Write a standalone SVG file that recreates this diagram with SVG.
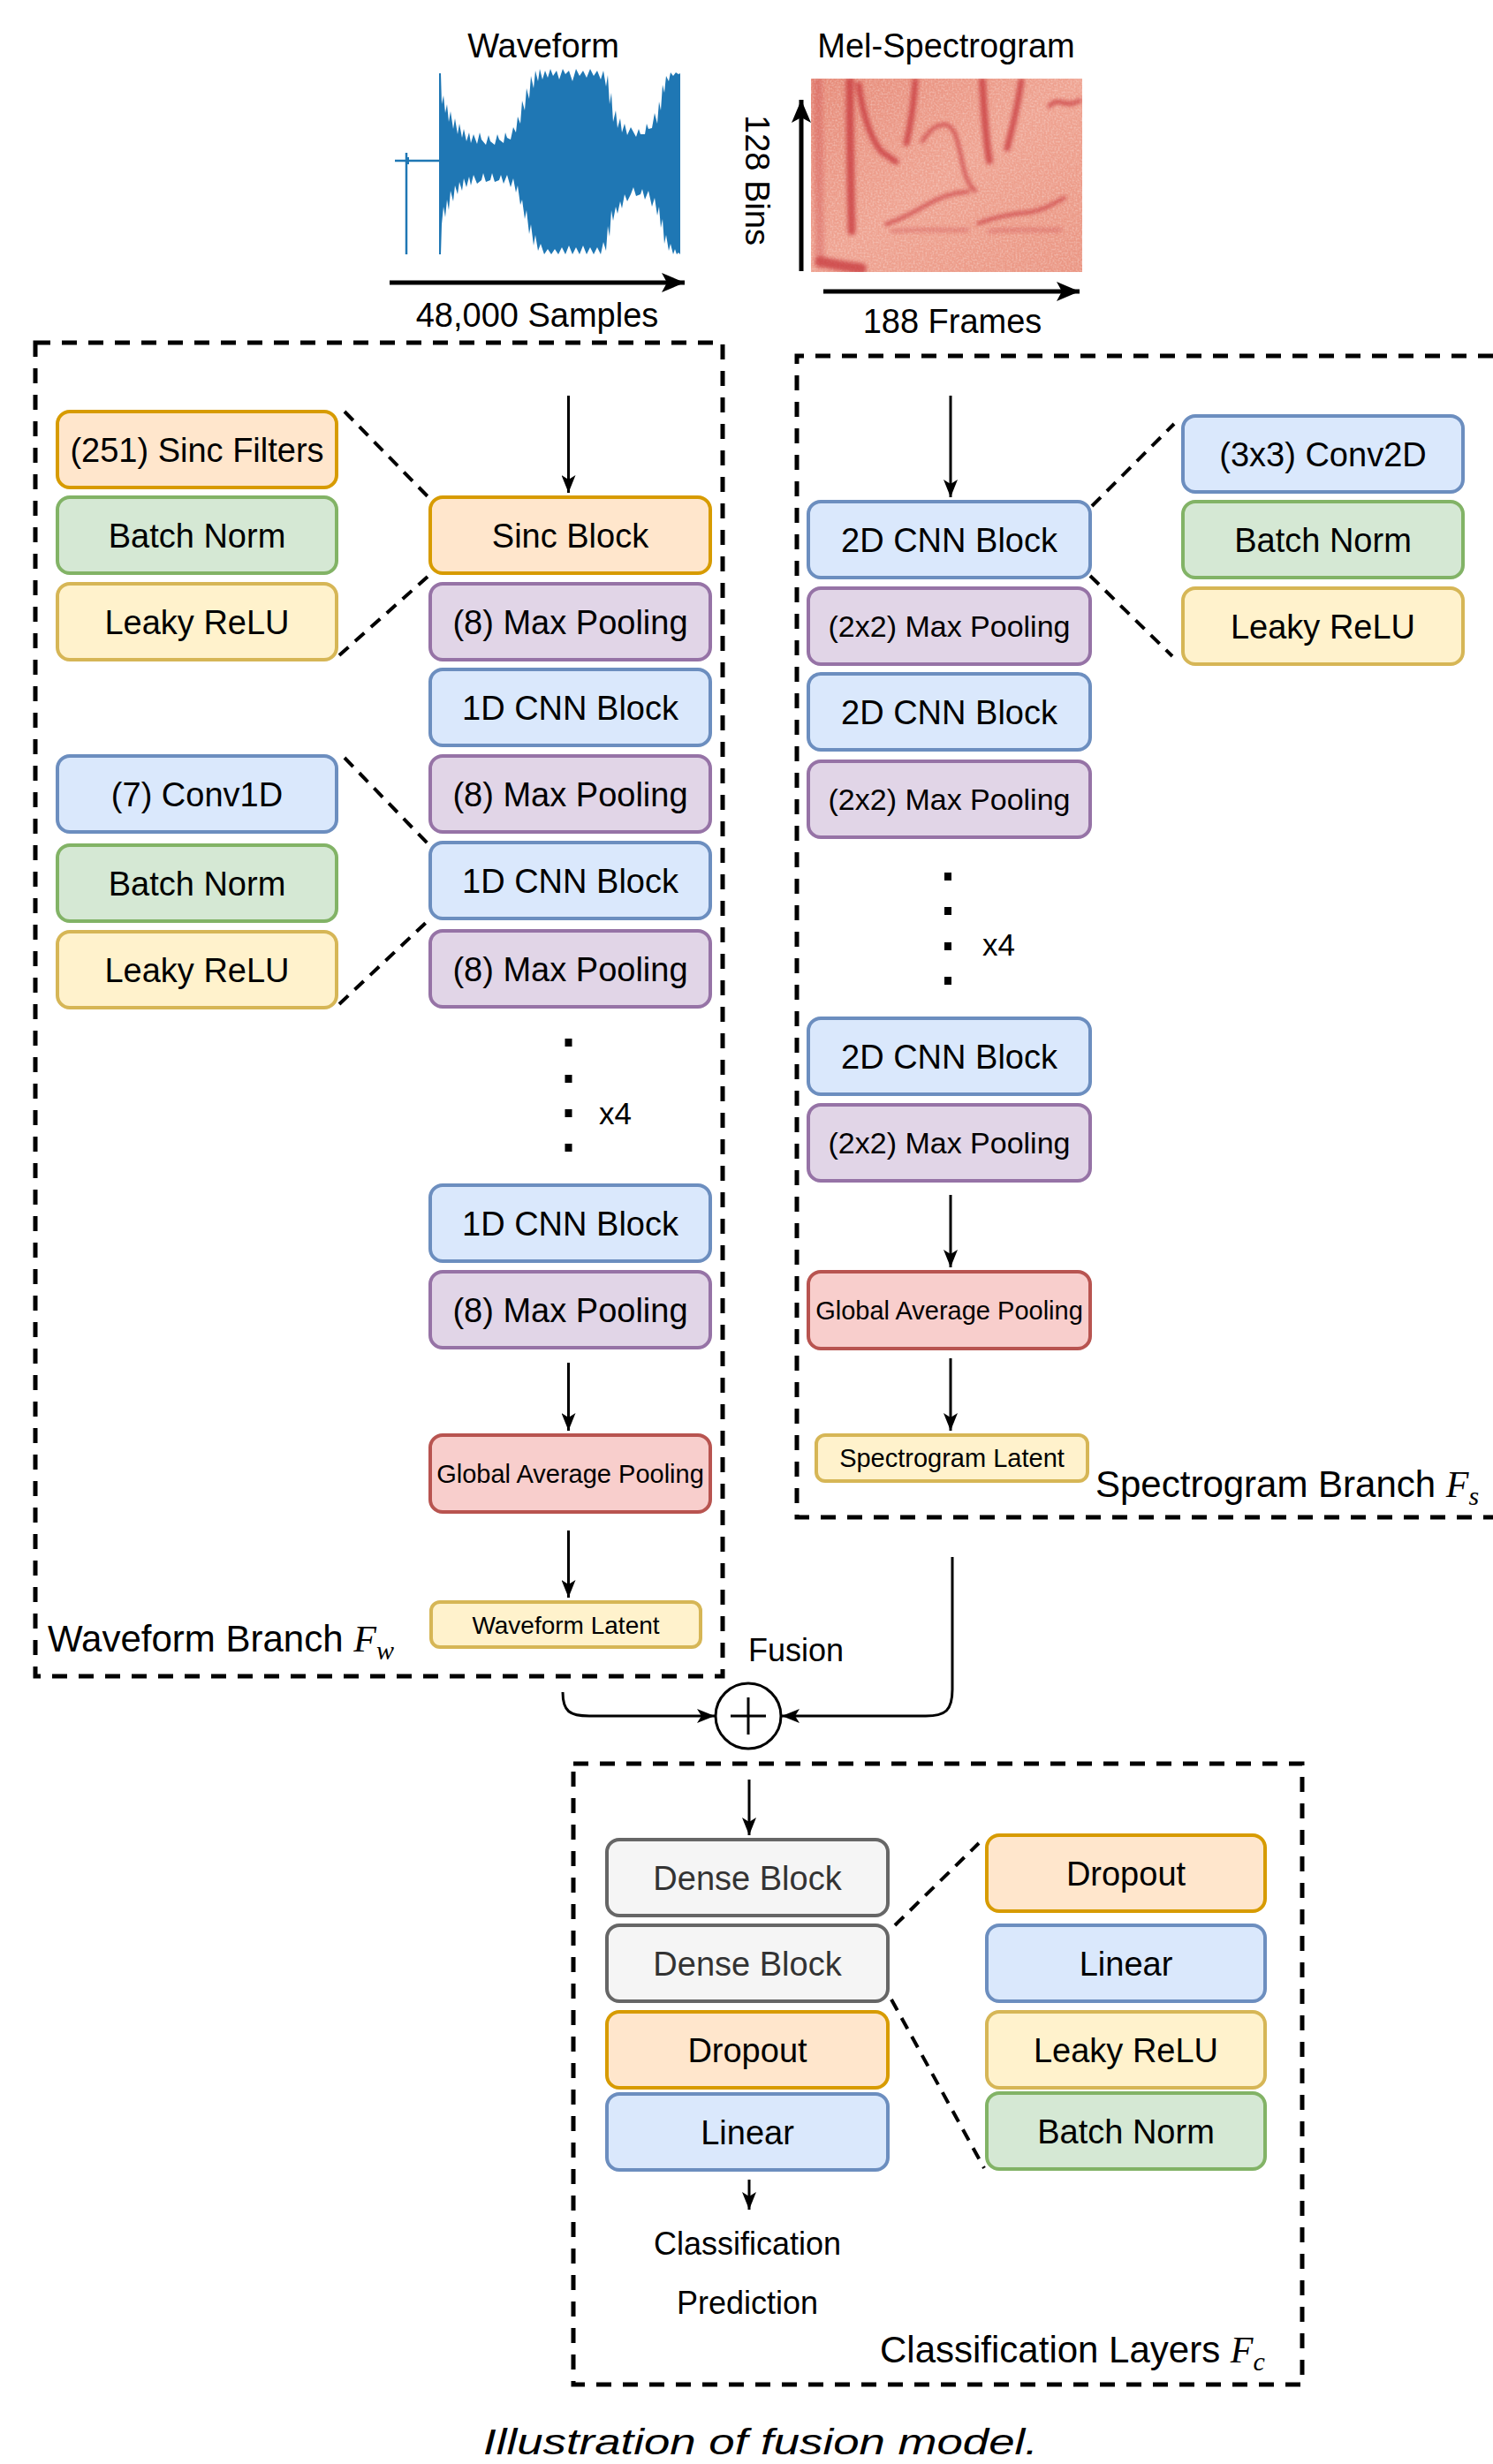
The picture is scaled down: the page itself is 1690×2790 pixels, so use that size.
<svg xmlns="http://www.w3.org/2000/svg" width="1690" height="2790" viewBox="0 0 1690 2790">
<defs>
<style>
.o{fill:#ffe6cc;stroke:#d79b00;stroke-width:4}
.g{fill:#d5e8d4;stroke:#82b366;stroke-width:4}
.y{fill:#fff2cc;stroke:#d6b656;stroke-width:4}
.b{fill:#dae8fc;stroke:#6c8ebf;stroke-width:4}
.p{fill:#e1d5e7;stroke:#9673a6;stroke-width:4}
.r{fill:#f8cecc;stroke:#b85450;stroke-width:4}
.k{fill:#f5f5f5;stroke:#666666;stroke-width:4}
text{font-family:"Liberation Sans",Arial,Helvetica,sans-serif;fill:#000}
.t{font-size:38px;text-anchor:middle}
.t34{font-size:34px;text-anchor:middle}
.t29{font-size:29px;text-anchor:middle}
.t28{font-size:28px;text-anchor:middle}
.gt{fill:#333333}
.lbl{font-size:42px}
.math{font-family:"Liberation Serif","DejaVu Serif",serif;font-style:italic}
.border{fill:none;stroke:#000;stroke-width:5;stroke-dasharray:17 13}
.dl{fill:none;stroke:#000;stroke-width:4;stroke-dasharray:14 10}
.arr{fill:none;stroke:#000;stroke-width:3;marker-end:url(#ah)}
.ax{fill:none;stroke:#000;stroke-width:5;marker-end:url(#bh)}
.dot{fill:#000}
</style>
<marker id="ah" markerUnits="userSpaceOnUse" markerWidth="20" markerHeight="16" viewBox="0 0 20 16" refX="20" refY="8" orient="auto">
<path d="M0,0 L20,8 L0,16 L5,8 z" fill="#000"/>
</marker>
<marker id="bh" markerUnits="userSpaceOnUse" markerWidth="26" markerHeight="22" viewBox="0 0 26 22" refX="26" refY="11" orient="auto">
<path d="M0,0 L26,11 L0,22 L6,11 z" fill="#000"/>
</marker>
<clipPath id="specclip"><rect x="918" y="89" width="307" height="219"/></clipPath>
<filter id="speck" x="0" y="0" width="1" height="1">
<feTurbulence type="fractalNoise" baseFrequency="0.5" numOctaves="2" seed="3" result="n"/>
<feColorMatrix in="n" type="matrix" values="0 0 0 0 1  0 0 0 0 1  0 0 0 0 1  1.8 0 0 0 -0.7" result="w"/>
<feComposite in="w" in2="SourceGraphic" operator="in"/>
</filter>
<filter id="soft" x="-0.2" y="-0.2" width="1.4" height="1.4"><feGaussianBlur stdDeviation="2.2"/></filter>
<linearGradient id="specbg" x1="0" y1="0" x2="1" y2="1">
<stop offset="0" stop-color="#e68b79"/>
<stop offset="0.5" stop-color="#efa391"/>
<stop offset="1" stop-color="#ea9683"/>
</linearGradient>
</defs>
<rect width="1690" height="2790" fill="#ffffff"/>

<!-- Inputs -->
<g id="waveform-input">
<text x="615" y="65" class="t">Waveform</text>
<line x1="447" y1="182" x2="497" y2="182" stroke="#1f77b4" stroke-width="2.5"/>
<line x1="460" y1="173" x2="460" y2="288" stroke="#1f77b4" stroke-width="2.5"/>
<line x1="462" y1="178" x2="462" y2="186" stroke="#1f77b4" stroke-width="2"/>
<polygon fill="#1f77b4" points="497,182 497,83 499,83 500,118 502,108 504,128 506,118 508,138 510,126 513,146 515,134 518,152 520,140 523,156 525,146 528,160 531,150 533,162 536,152 540,163 543,150 545,158 550,164 553,153 555,160 560,164 563,152 565,158 570,162 572,150 574,156 578,158 581,144 584,150 586,132 589,140 591,114 594,125 596,100 599,112 601,86 604,100 606,80 609,92 611,78 614,90 617,80 620,88 623,78 626,86 630,80 633,90 637,78 640,84 644,80 648,92 652,78 656,86 660,80 664,88 668,78 672,86 676,80 680,90 683,80 686,98 688,85 690,118 692,105 694,138 697,125 699,145 702,134 704,150 707,140 710,153 714,144 720,155 723,146 725,152 730,152 732,140 734,146 738,145 741,128 744,140 746,115 748,125 750,96 752,105 754,86 757,92 759,82 762,86 765,82 768,84 770,83 770,288 768,286 766,288 764,282 762,288 759,276 757,284 754,266 752,276 750,248 748,258 746,234 744,244 741,224 738,234 734,216 730,226 727,214 725,220 720,222 717,212 714,220 710,228 707,220 704,236 702,228 699,242 697,234 694,250 692,238 690,268 688,256 686,284 683,274 680,288 676,280 672,288 668,280 664,288 660,278 656,288 652,280 648,288 644,278 640,288 636,280 632,288 628,282 624,288 620,282 616,288 612,276 609,284 606,266 604,278 601,254 599,265 596,238 594,248 591,226 589,232 586,210 584,218 581,202 578,212 574,198 570,208 567,198 565,204 560,206 557,196 555,204 550,206 547,196 545,204 540,208 536,198 533,210 531,200 528,212 525,202 523,216 520,206 518,220 515,210 513,228 510,216 508,238 506,226 504,246 502,234 500,254 499,288 497,288"/>
<line x1="441" y1="320" x2="775" y2="320" class="ax"/>
<text x="608" y="370" class="t">48,000 Samples</text>
</g>

<g id="spectrogram-input">
<text x="1071" y="65" class="t">Mel-Spectrogram</text>
<rect x="918" y="89" width="307" height="219" fill="url(#specbg)"/>
<g clip-path="url(#specclip)">
<rect x="918" y="89" width="307" height="219" fill="#fff" filter="url(#speck)" opacity="0.4"/>
<g fill="none" stroke="#c42d36" stroke-linecap="round" opacity="0.7" filter="url(#soft)">
<path d="M926,92 L928,300" stroke-width="10" opacity="0.35"/>
<path d="M962,92 C962,150 963,210 964,262" stroke-width="9"/>
<path d="M972,96 C976,125 984,155 998,172 L1014,183" stroke-width="7"/>
<path d="M1036,92 C1034,120 1030,145 1026,162" stroke-width="7"/>
<path d="M1044,160 C1050,150 1058,142 1068,141 C1080,140 1084,158 1088,178 C1092,200 1098,212 1104,216" stroke-width="4"/>
<path d="M1112,92 C1114,130 1116,160 1120,182" stroke-width="8"/>
<path d="M1156,92 C1152,120 1146,145 1140,168" stroke-width="7"/>
<path d="M1188,120 C1198,108 1206,124 1222,114" stroke-width="5"/>
<path d="M1003,254 C1020,248 1035,240 1047,233 C1065,222 1080,218 1096,217" stroke-width="4"/>
<path d="M1107,253 C1125,246 1145,242 1167,240 C1180,238 1190,232 1205,224" stroke-width="4"/>
<path d="M1010,262 C1040,258 1070,262 1095,260" stroke-width="4" opacity="0.5"/>
<path d="M1120,262 C1150,258 1170,262 1200,260" stroke-width="4" opacity="0.5"/>
<path d="M928,296 C945,300 960,302 975,304" stroke-width="12"/>
</g>
</g>
<line x1="907" y1="307" x2="907" y2="113" class="ax"/>
<text transform="translate(844,204) rotate(90)" class="t">128 Bins</text>
<line x1="932" y1="330" x2="1222" y2="330" class="ax"/>
<text x="1078" y="377" class="t">188 Frames</text>
</g>

<!-- Group borders -->
<g id="waveform-branch">
<rect x="40" y="388" width="778" height="1510" class="border"/>
<text x="54" y="1870" class="lbl">Waveform Branch <tspan class="math">F</tspan><tspan class="math" font-size="30" dy="9">w</tspan></text>
</g>
<g id="spectrogram-branch">
<path d="M1690,403 H902 V1718 H1690" class="border"/>
<text x="1240" y="1695" class="lbl">Spectrogram Branch <tspan class="math">F</tspan><tspan class="math" font-size="30" dy="9">s</tspan></text>
</g>
<g id="classification-layers">
<rect x="649" y="1997" width="825" height="703" class="border"/>
<text x="996" y="2675" class="lbl">Classification Layers <tspan class="math">F</tspan><tspan class="math" font-size="30" dy="9">c</tspan></text>
</g>

<!-- Waveform branch nodes -->
<g id="sinc-block"><rect x="487" y="563" width="317" height="86" rx="14" class="o"/><text x="645.5" y="620" class="t">Sinc Block</text></g>
<g id="w-maxpool-1"><rect x="487" y="661" width="317" height="86" rx="14" class="p"/><text x="645.5" y="718" class="t">(8) Max Pooling</text></g>
<g id="w-cnn-1"><rect x="487" y="758" width="317" height="86" rx="14" class="b"/><text x="645.5" y="815" class="t">1D CNN Block</text></g>
<g id="w-maxpool-2"><rect x="487" y="856" width="317" height="86" rx="14" class="p"/><text x="645.5" y="913" class="t">(8) Max Pooling</text></g>
<g id="w-cnn-2"><rect x="487" y="954" width="317" height="86" rx="14" class="b"/><text x="645.5" y="1011" class="t">1D CNN Block</text></g>
<g id="w-maxpool-3"><rect x="487" y="1054" width="317" height="86" rx="14" class="p"/><text x="645.5" y="1111" class="t">(8) Max Pooling</text></g>
<g id="w-repeat"><rect x="639.5" y="1176" width="8" height="9" class="dot"/><rect x="639.5" y="1217" width="8" height="9" class="dot"/><rect x="639.5" y="1256" width="8" height="9" class="dot"/><rect x="639.5" y="1295" width="8" height="9" class="dot"/><text x="678" y="1273" font-size="35">x4</text></g>
<g id="w-cnn-n"><rect x="487" y="1342" width="317" height="86" rx="14" class="b"/><text x="645.5" y="1399" class="t">1D CNN Block</text></g>
<g id="w-maxpool-n"><rect x="487" y="1440" width="317" height="86" rx="14" class="p"/><text x="645.5" y="1497" class="t">(8) Max Pooling</text></g>
<g id="w-gap"><rect x="487" y="1625" width="317" height="87" rx="14" class="r"/><text x="645.5" y="1679" class="t29">Global Average Pooling</text></g>
<g id="waveform-latent"><rect x="488" y="1814" width="305" height="51" rx="10" class="y"/><text x="640.5" y="1849.5" class="t28">Waveform Latent</text></g>

<g id="sinc-filters"><rect x="65" y="466" width="316" height="86" rx="14" class="o"/><text x="223" y="523" class="t">(251) Sinc Filters</text></g>
<g id="w-bn-1"><rect x="65" y="563" width="316" height="86" rx="14" class="g"/><text x="223" y="620" class="t">Batch Norm</text></g>
<g id="w-relu-1"><rect x="65" y="661" width="316" height="86" rx="14" class="y"/><text x="223" y="718" class="t">Leaky ReLU</text></g>
<g id="conv1d"><rect x="65" y="856" width="316" height="86" rx="14" class="b"/><text x="223" y="913" class="t">(7) Conv1D</text></g>
<g id="w-bn-2"><rect x="65" y="957" width="316" height="86" rx="14" class="g"/><text x="223" y="1014" class="t">Batch Norm</text></g>
<g id="w-relu-2"><rect x="65" y="1055" width="316" height="86" rx="14" class="y"/><text x="223" y="1112" class="t">Leaky ReLU</text></g>

<!-- Spectrogram branch nodes -->
<g id="s-cnn-1"><rect x="915" y="568" width="319" height="86" rx="14" class="b"/><text x="1074.5" y="625" class="t">2D CNN Block</text></g>
<g id="s-maxpool-1"><rect x="915" y="666" width="319" height="86" rx="14" class="p"/><text x="1074.5" y="721" class="t34">(2x2) Max Pooling</text></g>
<g id="s-cnn-2"><rect x="915" y="763" width="319" height="86" rx="14" class="b"/><text x="1074.5" y="820" class="t">2D CNN Block</text></g>
<g id="s-maxpool-2"><rect x="915" y="862" width="319" height="86" rx="14" class="p"/><text x="1074.5" y="917" class="t34">(2x2) Max Pooling</text></g>
<g id="s-repeat"><rect x="1069" y="988" width="8" height="9" class="dot"/><rect x="1069" y="1027" width="8" height="9" class="dot"/><rect x="1069" y="1067" width="8" height="9" class="dot"/><rect x="1069" y="1106" width="8" height="9" class="dot"/><text x="1112" y="1082" font-size="35">x4</text></g>
<g id="s-cnn-n"><rect x="915" y="1153" width="319" height="86" rx="14" class="b"/><text x="1074.5" y="1210" class="t">2D CNN Block</text></g>
<g id="s-maxpool-n"><rect x="915" y="1251" width="319" height="86" rx="14" class="p"/><text x="1074.5" y="1306" class="t34">(2x2) Max Pooling</text></g>
<g id="s-gap"><rect x="915" y="1440" width="319" height="87" rx="14" class="r"/><text x="1074.5" y="1494" class="t29">Global Average Pooling</text></g>
<g id="spectrogram-latent"><rect x="924" y="1625" width="307" height="52" rx="10" class="y"/><text x="1077.5" y="1661" class="t29">Spectrogram Latent</text></g>

<g id="conv2d"><rect x="1339" y="471" width="317" height="86" rx="14" class="b"/><text x="1497.5" y="528" class="t">(3x3) Conv2D</text></g>
<g id="s-bn"><rect x="1339" y="568" width="317" height="86" rx="14" class="g"/><text x="1497.5" y="625" class="t">Batch Norm</text></g>
<g id="s-relu"><rect x="1339" y="666" width="317" height="86" rx="14" class="y"/><text x="1497.5" y="723" class="t">Leaky ReLU</text></g>

<!-- Fusion -->
<g id="fusion">
<circle cx="847" cy="1943" r="37" fill="#fff" stroke="#000" stroke-width="3"/>
<line x1="827" y1="1943" x2="867" y2="1943" stroke="#000" stroke-width="3"/>
<line x1="847" y1="1922" x2="847" y2="1964" stroke="#000" stroke-width="3"/>
<text x="847" y="1881" font-size="36">Fusion</text>
</g>

<!-- Classification nodes -->
<g id="dense-1"><rect x="687" y="2083" width="318" height="86" rx="14" class="k"/><text x="846" y="2140" class="t gt">Dense Block</text></g>
<g id="dense-2"><rect x="687" y="2180" width="318" height="86" rx="14" class="k"/><text x="846" y="2237" class="t gt">Dense Block</text></g>
<g id="c-dropout"><rect x="687" y="2278" width="318" height="86" rx="14" class="o"/><text x="846" y="2335" class="t">Dropout</text></g>
<g id="c-linear"><rect x="687" y="2371" width="318" height="86" rx="14" class="b"/><text x="846" y="2428" class="t">Linear</text></g>
<g id="d-dropout"><rect x="1117" y="2078" width="315" height="86" rx="14" class="o"/><text x="1274.5" y="2135" class="t">Dropout</text></g>
<g id="d-linear"><rect x="1117" y="2180" width="315" height="86" rx="14" class="b"/><text x="1274.5" y="2237" class="t">Linear</text></g>
<g id="d-relu"><rect x="1117" y="2278" width="315" height="86" rx="14" class="y"/><text x="1274.5" y="2335" class="t">Leaky ReLU</text></g>
<g id="d-bn"><rect x="1117" y="2370" width="315" height="86" rx="14" class="g"/><text x="1274.5" y="2427" class="t">Batch Norm</text></g>
<g id="prediction"><text x="846" y="2553" font-size="36" text-anchor="middle">Classification</text><text x="846" y="2620" font-size="36" text-anchor="middle">Prediction</text></g>

<!-- Connectors -->
<g id="connectors">
<line x1="643.5" y1="448" x2="643.5" y2="558" class="arr"/>
<line x1="643.5" y1="1543" x2="643.5" y2="1620" class="arr"/>
<line x1="643.5" y1="1733" x2="643.5" y2="1809" class="arr"/>
<line x1="1076" y1="448" x2="1076" y2="563" class="arr"/>
<line x1="1076" y1="1353" x2="1076" y2="1435" class="arr"/>
<line x1="1076" y1="1538" x2="1076" y2="1620" class="arr"/>
<path d="M637,1916 C637,1938 645,1943 667,1943 L809,1943" class="arr"/>
<path d="M1078,1763 L1078,1913 C1078,1937 1070,1943 1048,1943 L885,1943" class="arr"/>
<line x1="848" y1="2015" x2="848" y2="2078" class="arr"/>
<line x1="848" y1="2468" x2="848" y2="2502" class="arr"/>
<line x1="390" y1="466" x2="484" y2="562" class="dl"/>
<line x1="384" y1="742" x2="484" y2="653" class="dl"/>
<line x1="390" y1="858" x2="484" y2="955" class="dl"/>
<line x1="384" y1="1137" x2="484" y2="1043" class="dl"/>
<line x1="1236" y1="573" x2="1329" y2="480" class="dl"/>
<line x1="1234" y1="652" x2="1327" y2="743" class="dl"/>
<line x1="1013" y1="2180" x2="1108" y2="2087" class="dl"/>
<line x1="1009" y1="2264" x2="1114" y2="2455" class="dl"/>
</g>

<text x="547" y="2779" font-size="41" font-style="italic" fill="#606060" textLength="628" lengthAdjust="spacingAndGlyphs">Illustration of fusion model.</text>
</svg>
